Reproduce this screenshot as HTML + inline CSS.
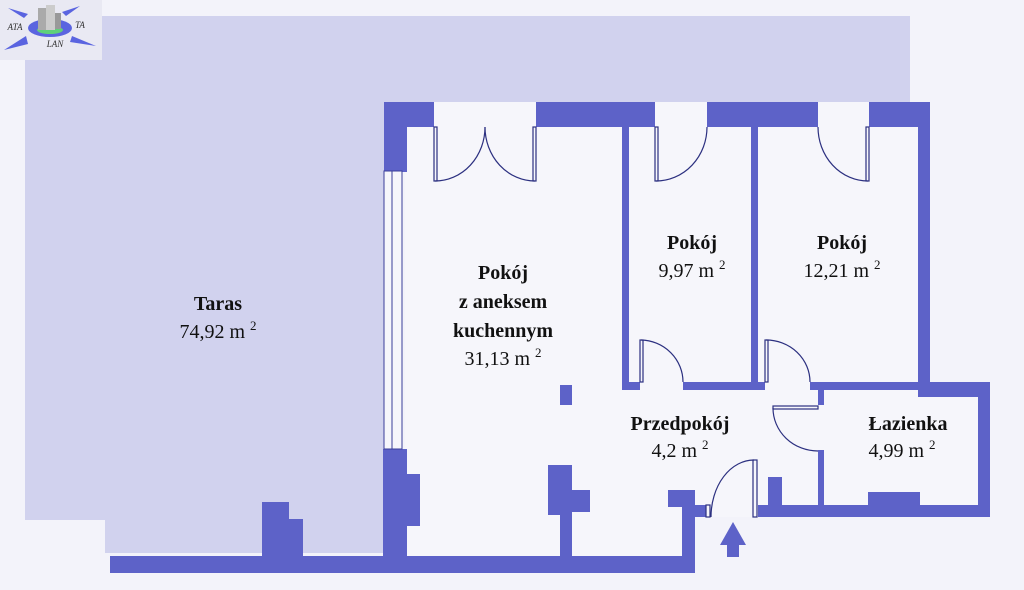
<!DOCTYPE html>
<html><head><meta charset="utf-8"><style>
html,body{margin:0;padding:0;background:#f3f3fa;}
svg{display:block}
.t{font-family:"Liberation Serif",serif;font-size:20px;fill:#111;text-anchor:middle}
.b{font-weight:bold}
</style></head><body>
<svg width="1024" height="590" viewBox="0 0 1024 590" xmlns="http://www.w3.org/2000/svg">
<rect width="1024" height="590" fill="#f3f3fa"/>
<!-- terrace -->
<path d="M25 16 H910 V102 H385 V553 H105 V520 H25 Z" fill="#d1d2ee"/>
<!-- logo -->
<rect x="0" y="0" width="102" height="60" fill="#e9e9f3"/>
<ellipse cx="50" cy="28" rx="22" ry="9" fill="#5a64e0"/>
<ellipse cx="50" cy="30" rx="13" ry="4" fill="#5fd07a"/>
<rect x="38" y="8" width="8" height="22" fill="#aaa"/><rect x="46" y="5" width="9" height="25" fill="#ccc"/><rect x="55" y="13" width="6" height="16" fill="#999"/>
<polygon points="8,8 28,14 24,18" fill="#5a64e0"/><polygon points="80,6 66,16 62,12" fill="#5a64e0"/>
<polygon points="4,50 26,36 28,44" fill="#5a64e0"/><polygon points="96,46 72,36 70,42" fill="#5a64e0"/>
<text x="15" y="30" font-family="Liberation Serif" font-style="italic" font-size="9" fill="#333" text-anchor="middle">ATA</text>
<text x="80" y="28" font-family="Liberation Serif" font-style="italic" font-size="9" fill="#333" text-anchor="middle">TA</text>
<text x="55" y="47" font-family="Liberation Serif" font-style="italic" font-size="9" fill="#333" text-anchor="middle">LAN</text>
<!-- apartment floor -->
<path d="M405 102 H930 V390 H978 V505 H758 V517 H685 V557 H405 Z" fill="#f6f6fb"/>
<g fill="#5d62c8">
<!-- top wall -->
<rect x="384" y="102" width="50" height="25"/>
<rect x="384" y="102" width="23" height="70"/>
<rect x="536" y="102" width="119" height="25"/>
<rect x="707" y="102" width="111" height="25"/>
<rect x="869" y="102" width="61" height="25"/>
<rect x="918" y="102" width="12" height="295"/>
<!-- interior walls -->
<rect x="622" y="127" width="7" height="263"/>
<rect x="751" y="127" width="7" height="263"/>
<rect x="622" y="382" width="18" height="8"/>
<rect x="683" y="382" width="82" height="8"/>
<rect x="810" y="382" width="180" height="8"/>
<rect x="918" y="382" width="72" height="15"/>
<rect x="978" y="382" width="12" height="135"/>
<rect x="818" y="390" width="6" height="15"/>
<rect x="818" y="450" width="6" height="58"/>
<rect x="758" y="505" width="232" height="12"/>
<rect x="768" y="477" width="14" height="30"/>
<rect x="868" y="492" width="52" height="15"/>
<!-- left wall lower -->
<rect x="383" y="449" width="24" height="124"/>
<rect x="405" y="474" width="15" height="52"/>
<!-- bottom wall -->
<rect x="110" y="556" width="585" height="17"/>
<rect x="262" y="502" width="27" height="56"/>
<rect x="289" y="519" width="14" height="39"/>
<!-- kitchen bits -->
<rect x="560" y="385" width="12" height="20"/>
<rect x="548" y="465" width="24" height="50"/>
<rect x="572" y="490" width="18" height="22"/>
<rect x="560" y="465" width="12" height="93"/>
<rect x="668" y="490" width="27" height="17"/>
<rect x="682" y="490" width="13" height="83"/>
<rect x="685" y="505" width="21" height="12"/>
<!-- arrow -->
<polygon points="733,522 720,545 727,545 727,557 739,557 739,545 746,545"/>
</g>
<!-- window -->
<rect x="384" y="171" width="18" height="278" fill="#f6f6fb" stroke="#3a3f9a" stroke-width="1"/>
<line x1="392" y1="171" x2="392" y2="449" stroke="#3a3f9a" stroke-width="1"/>
<!-- doors -->
<g fill="none" stroke="#2c3080" stroke-width="1.2">
<rect x="434" y="127" width="3" height="54" fill="#f6f6fb"/>
<rect x="533" y="127" width="3" height="54" fill="#f6f6fb"/>
<path d="M435 181 A50 54 0 0 0 485 127"/>
<path d="M535 181 A50 54 0 0 1 485 127"/>
<rect x="655" y="127" width="3" height="54" fill="#f6f6fb"/>
<path d="M656 181 A51 54 0 0 0 707 127"/>
<rect x="866" y="127" width="3" height="54" fill="#f6f6fb"/>
<path d="M868 181 A50 54 0 0 1 818 127"/>
<rect x="640" y="340" width="3" height="42" fill="#f6f6fb"/>
<path d="M641 340 A43 42 0 0 1 683 382"/>
<rect x="765" y="340" width="3" height="42" fill="#f6f6fb"/>
<path d="M766 340 A44 42 0 0 1 810 382"/>
<rect x="773" y="406" width="45" height="3" fill="#f6f6fb"/>
<path d="M773 408 A45 43 0 0 0 818 451"/>
<rect x="753" y="460" width="4" height="57" fill="#f6f6fb"/>
<path d="M754 460 A43 57 0 0 0 711 517"/>
<rect x="706" y="505" width="4" height="12" fill="#f6f6fb"/>
</g>
<!-- labels -->
<text class="t b" x="218" y="310">Taras</text>
<text class="t" x="218" y="338">74,92 m <tspan font-size="13" dy="-8">2</tspan></text>
<text class="t b" x="503" y="279">Pokój</text>
<text class="t b" x="503" y="308">z aneksem</text>
<text class="t b" x="503" y="337">kuchennym</text>
<text class="t" x="503" y="365">31,13 m <tspan font-size="13" dy="-8">2</tspan></text>
<text class="t b" x="692" y="249">Pokój</text>
<text class="t" x="692" y="277">9,97 m <tspan font-size="13" dy="-8">2</tspan></text>
<text class="t b" x="842" y="249">Pokój</text>
<text class="t" x="842" y="277">12,21 m <tspan font-size="13" dy="-8">2</tspan></text>
<text class="t b" x="680" y="430">Przedpokój</text>
<text class="t" x="680" y="457">4,2 m <tspan font-size="13" dy="-8">2</tspan></text>
<text class="t b" x="908" y="430">Łazienka</text>
<text class="t" x="902" y="457">4,99 m <tspan font-size="13" dy="-8">2</tspan></text>
</svg>
</body></html>
